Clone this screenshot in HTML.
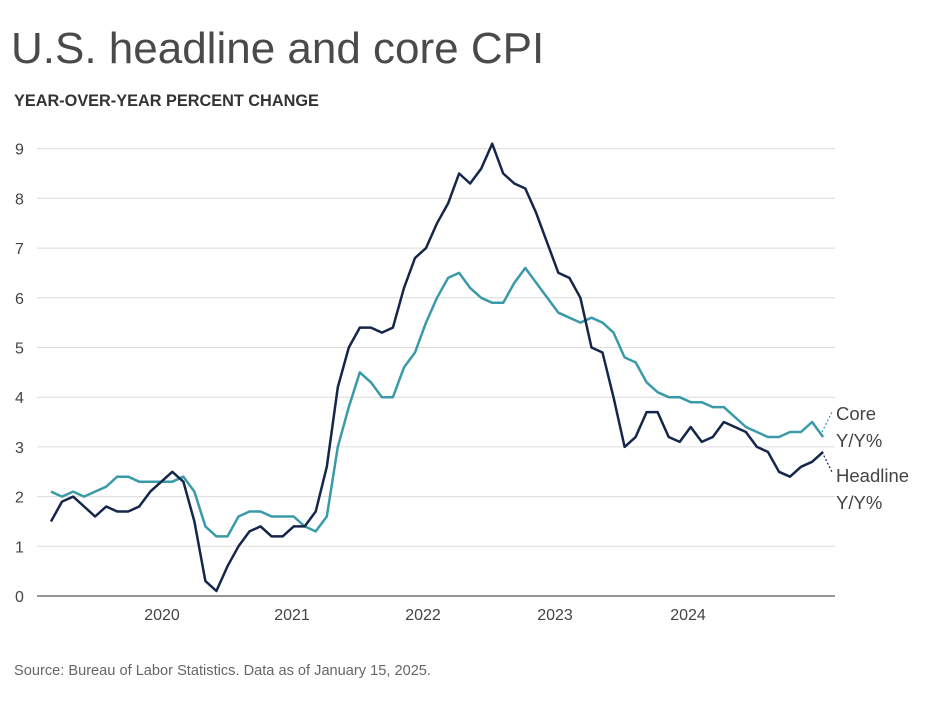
<!DOCTYPE html>
<html><head><meta charset="utf-8"><style>
body{margin:0;background:#fff;width:931px;height:696px;overflow:hidden;font-family:"Liberation Sans",sans-serif}
</style></head><body>
<svg width="931" height="696" xmlns="http://www.w3.org/2000/svg" font-family="Liberation Sans, sans-serif">
<text x="11" y="63" font-size="44" fill="#4a4a4a">U.S. headline and core CPI</text>
<text x="14" y="106" font-size="16.3" fill="#333" font-weight="bold">YEAR-OVER-YEAR PERCENT CHANGE</text>
<g id="grid" stroke="#dcdcdc" stroke-width="1"></g>
<g id="ylab" font-size="16" fill="#444"></g>
<line x1="37" y1="596" x2="835" y2="596" stroke="#555" stroke-width="1.2"/>
<g font-size="16" fill="#444" text-anchor="middle">
<text x="162" y="620">2020</text><text x="292" y="620">2021</text><text x="423" y="620">2022</text><text x="555" y="620">2023</text><text x="688" y="620">2024</text>
</g>
<polyline id="core" fill="none" stroke="#3a9aa8" stroke-width="2.5" stroke-linejoin="round"/>
<polyline id="head" fill="none" stroke="#14264a" stroke-width="2.5" stroke-linejoin="round"/>
<line x1="822" y1="432" x2="832" y2="412" stroke="#3a9aa8" stroke-width="1.2" stroke-dasharray="2,2"/>
<line x1="822" y1="452" x2="832" y2="472" stroke="#14264a" stroke-width="1.2" stroke-dasharray="2,2"/>
<g font-size="18.5" fill="#444">
<text x="836" y="420">Core</text><text x="836" y="447">Y/Y%</text>
<text x="836" y="482">Headline</text><text x="836" y="509">Y/Y%</text>
</g>
<text x="14" y="675" font-size="14.6" fill="#666">Source: Bureau of Labor Statistics. Data as of January 15, 2025.</text>
</svg>
<script>
var g=document.getElementById('grid'),yl=document.getElementById('ylab'),ns='http://www.w3.org/2000/svg';
function Y(v){return 596-v*49.7;}
for(var i=1;i<=9;i++){var l=document.createElementNS(ns,'line');l.setAttribute('x1',37);l.setAttribute('x2',835);l.setAttribute('y1',Y(i));l.setAttribute('y2',Y(i));g.appendChild(l);}
for(var i=0;i<=9;i++){var t=document.createElementNS(ns,'text');t.setAttribute('x',15);t.setAttribute('y',Y(i)+6);t.textContent=i;yl.appendChild(t);}
var head=[1.5,1.9,2.0,1.8,1.6,1.8,1.7,1.7,1.8,2.1,2.3,
2.5,2.3,1.5,0.3,0.1,0.6,1.0,1.3,1.4,1.2,1.2,1.4,
1.4,1.7,2.6,4.2,5.0,5.4,5.4,5.3,5.4,6.2,6.8,7.0,
7.5,7.9,8.5,8.3,8.6,9.1,8.5,8.3,8.2,7.7,7.1,6.5,
6.4,6.0,5.0,4.9,4.0,3.0,3.2,3.7,3.7,3.2,3.1,3.4,
3.1,3.2,3.5,3.4,3.3,3.0,2.9,2.5,2.4,2.6,2.7,2.9];
var core=[2.1,2.0,2.1,2.0,2.1,2.2,2.4,2.4,2.3,2.3,2.3,
2.3,2.4,2.1,1.4,1.2,1.2,1.6,1.7,1.7,1.6,1.6,1.6,
1.4,1.3,1.6,3.0,3.8,4.5,4.3,4.0,4.0,4.6,4.9,5.5,
6.0,6.4,6.5,6.2,6.0,5.9,5.9,6.3,6.6,6.3,6.0,5.7,
5.6,5.5,5.6,5.5,5.3,4.8,4.7,4.3,4.1,4.0,4.0,3.9,
3.9,3.8,3.8,3.6,3.4,3.3,3.2,3.2,3.3,3.3,3.5,3.2];
function pts(a){return a.map(function(v,i){return (51+i*11.03).toFixed(1)+','+Y(v).toFixed(1);}).join(' ');}
document.getElementById('head').setAttribute('points',pts(head));
document.getElementById('core').setAttribute('points',pts(core));
</script>
</body></html>
